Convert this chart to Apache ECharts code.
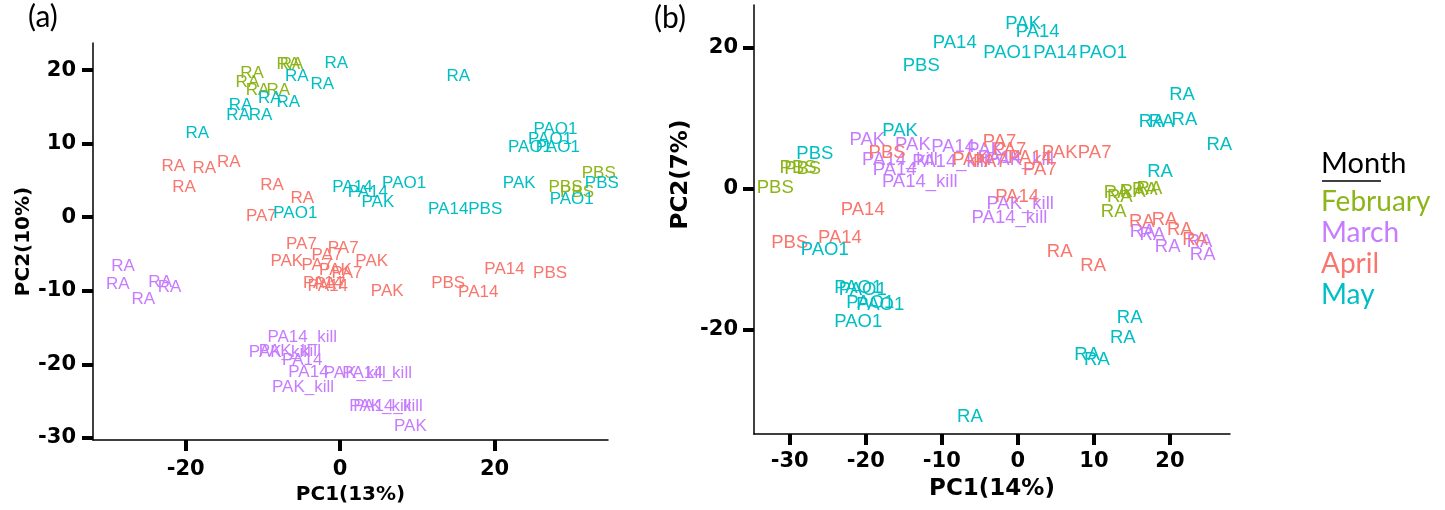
<!DOCTYPE html>
<html>
<head>
<meta charset="utf-8">
<script src="https://cdn.jsdelivr.net/npm/echarts@6/dist/echarts.min.js"></script>
<style>
html,body{margin:0;padding:0;background:#fff;}
#chart{width:1445px;height:510px;}
</style>
</head>
<body>
<div id="chart"></div>
<script>
// ---------- DATA ----------
const months = ['February', 'March', 'April', 'May'];
const monthColors = ['#8db51a', '#c77cff', '#f8766d', '#00bfc4'];

const ticksAX = [-20, 0, 20];
const ticksAY = [-30, -20, -10, 0, 10, 20];
const ticksBX = [-30, -20, -10, 0, 10, 20];
const ticksBY = [-20, 0, 20];

// panel (a): [PC1, PC2, sample]
const febA = [[-11.4,19.6,'RA'],[-6.7,20.8,'RA'],[-6.3,20.8,'RA'],[-12.0,18.4,'RA'],[-10.7,17.3,'RA'],[-8.0,17.3,'RA'],
  [33.5,6.0,'PBS'],[29.2,4.1,'PBS'],[30.7,3.4,'PBS']];
const marA = [[-28.1,-6.7,'RA'],[-28.8,-9.1,'RA'],[-23.3,-8.8,'RA'],[-22.1,-9.5,'RA'],[-25.5,-11.2,'RA'],
  [-4.9,-16.3,'PA14_kill'],[-7.8,-18.4,'PAK_kill'],[-6.5,-18.2,'PAK_kill'],[-4.9,-19.5,'PA14'],[-4.1,-21.1,'PA14'],
  [-4.8,-23.1,'PAK_kill'],[1.9,-21.2,'PAK_kill'],[4.8,-21.2,'PA14_kill'],[5.2,-25.7,'PAK_kill'],[6.2,-25.7,'PA14_kill'],
  [9.1,-28.4,'PAK']];
const aprA = [[-21.6,6.9,'RA'],[-17.6,6.7,'RA'],[-14.4,7.5,'RA'],[-20.2,4.1,'RA'],[-8.8,4.4,'RA'],[-4.9,2.6,'RA'],
  [-10.2,0.1,'PA7'],[-5.0,-3.7,'PA7'],[0.4,-4.2,'PA7'],[-6.9,-6.0,'PAK'],[-1.7,-5.2,'PA7'],[4.1,-6.0,'PAK'],
  [-3.0,-6.5,'PA7'],[-0.6,-7.2,'PAK'],[0.9,-7.6,'PA7'],[-2.2,-9.0,'PA14'],[-1.3,-9.1,'PA7'],[-1.6,-9.4,'PA14'],
  [6.1,-10.1,'PAK'],[14.0,-9.0,'PBS'],[17.9,-10.2,'PA14'],[21.3,-7.1,'PA14'],[27.2,-7.6,'PBS']];
const mayA = [[-0.5,21.0,'RA'],[-5.6,19.2,'RA'],[-2.3,18.1,'RA'],[-9.1,16.2,'RA'],[-6.7,15.6,'RA'],[-12.9,15.2,'RA'],
  [-13.2,13.9,'RA'],[-10.3,13.9,'RA'],[-18.5,11.4,'RA'],[15.3,19.2,'RA'],
  [27.9,12.0,'PAO1'],[27.2,10.6,'PAO1'],[24.6,9.5,'PAO1'],[28.2,9.5,'PAO1'],[23.2,4.6,'PAK'],[33.9,4.6,'PBS'],
  [30.0,2.4,'PAO1'],[8.3,4.6,'PAO1'],[1.6,4.1,'PA14'],[3.6,3.4,'PA14'],[4.9,2.0,'PAK'],[14.0,1.1,'PA14'],
  [18.8,1.1,'PBS'],[-5.8,0.5,'PAO1']];

// panel (b): [PC1, PC2, sample]
const febB = [[-28.9,3.0,'PBS'],[-28.3,2.8,'PBS'],[-31.9,0.1,'PBS'],
  [13.0,-0.6,'RA'],[15.1,-0.4,'RA'],[16.7,-0.1,'RA'],[17.3,0.0,'RA'],[12.6,-3.3,'RA'],[13.4,-1.1,'RA']];
const marB = [[-19.8,7.0,'PAK'],[-13.8,6.3,'PAK'],[-8.5,6.0,'PA14'],[-4.3,5.5,'PAK'],[-15.5,4.1,'PA14_kill'],
  [-16.2,2.7,'PA14'],[-12.9,1.0,'PA14_kill'],[-8.9,3.8,'PA14_kill'],[-2.4,4.4,'PA14'],[0.3,4.1,'PAK_kill'],
  [0.3,-2.1,'PAK_kill'],[-1.1,-4.1,'PA14_kill'],
  [16.4,-6.1,'RA'],[17.7,-6.5,'RA'],[19.7,-8.2,'RA'],[23.9,-7.5,'RA'],[24.3,-9.4,'RA']];
const aprB = [[-17.2,5.1,'PBS'],[-20.4,-3.0,'PA14'],[-30.0,-7.7,'PBS'],[-23.4,-7.0,'PA14'],
  [-2.4,6.7,'PA7'],[5.5,5.1,'PAK'],[10.1,5.1,'PA7'],[2.9,2.7,'PA7'],[-0.1,-1.1,'PA14'],
  [-1.1,5.5,'PA7'],[1.6,4.4,'PA14'],[-6.3,4.1,'PAK'],[-3.7,3.8,'PA7'],
  [16.3,-4.7,'RA'],[19.3,-4.4,'RA'],[21.3,-5.8,'RA'],[23.3,-7.2,'RA'],[5.5,-8.9,'RA'],[9.9,-10.9,'RA']];
const mayB = [[0.7,23.4,'PAK'],[2.6,22.3,'PA14'],[-1.4,19.3,'PAO1'],[4.9,19.3,'PA14'],[11.2,19.3,'PAO1'],
  [-8.3,20.7,'PA14'],[-12.7,17.5,'PBS'],[-15.5,8.2,'PAK'],[-26.7,5.0,'PBS'],
  [21.6,13.4,'RA'],[17.6,9.5,'RA'],[18.9,9.5,'RA'],[21.9,9.8,'RA'],[26.5,6.3,'RA'],[18.7,2.4,'RA'],
  [-25.4,-8.7,'PAO1'],[-21.0,-14.1,'PAO1'],[-20.4,-14.3,'PAO1'],[-19.4,-16.2,'PAO1'],[-18.1,-16.5,'PAO1'],[-21.0,-18.9,'PAO1'],
  [14.7,-18.3,'RA'],[13.8,-21.2,'RA'],[9.1,-23.6,'RA'],[10.4,-24.3,'RA'],[-6.3,-32.4,'RA']];

const panelA = [febA, marA, aprA, mayA];
const panelB = [febB, marB, aprB, mayB];

// ---------- CHART ----------
const chart = echarts.init(document.getElementById('chart'), null, {renderer: 'canvas'});

function textSeries(name, data, color, gridIdx, fontSize) {
  return {
    type: 'custom',
    name: name,
    xAxisIndex: gridIdx,
    yAxisIndex: gridIdx,
    color: color,
    data: data.map(d => [d[0], d[1]]),
    encode: {x: 0, y: 1},
    clip: false,
    renderItem: function (params, api) {
      const p = api.coord([api.value(0), api.value(1)]);
      return {
        type: 'text',
        x: p[0], y: p[1],
        style: {
          text: data[params.dataIndex][2],
          fill: color,
          font: fontSize + 'px "Liberation Sans", Arial, sans-serif',
          align: 'center',
          verticalAlign: 'middle'
        }
      };
    }
  };
}

function axisCfg(gridIdx, min, max, ticks, name, tickFont, nameFont, nameGap, margin, namePadding) {
  return {
    type: 'value', gridIndex: gridIdx, min: min, max: max,
    name: name, nameLocation: 'middle', nameGap: nameGap,
    nameTextStyle: {fontFamily: 'DejaVu Sans', fontWeight: 'bold', fontSize: nameFont, color: '#000', padding: namePadding || 0},
    axisLine: {show: true, onZero: false, lineStyle: {color: '#000', width: 1.5}},
    axisTick: {show: true, length: 11, customValues: ticks, lineStyle: {color: '#000', width: 4}},
    axisLabel: {customValues: ticks, margin: margin, fontFamily: 'DejaVu Sans', fontWeight: 'bold', fontSize: tickFont, color: '#000'},
    splitLine: {show: false}
  };
}

const series = [];
months.forEach((m, i) => {
  series.push(textSeries(m, panelA[i], monthColors[i], 0, 17));
  series.push(textSeries(m, panelB[i], monthColors[i], 1, 18.5));
});

const option = {
  backgroundColor: '#fff',
  animation: false,
  grid: [
    {left: 93, top: 43, width: 515, height: 397},
    {left: 754, top: 5, width: 476, height: 429}
  ],
  xAxis: [
    axisCfg(0, -32, 34.7, ticksAX, 'PC1(13%)', 21, 20, 31, 19),
    axisCfg(1, -34.7, 27.9, ticksBX, 'PC1(14%)', 21, 23, 44, 17)
  ],
  yAxis: [
    axisCfg(0, -30.3, 23.7, ticksAY, 'PC2(10%)', 21, 20, 52, 17),
    axisCfg(1, -34.8, 26.1, ticksBY, 'PC2(7%)', 21, 23, 61, 16, [0, 0, 0, 90])
  ],
  legend: {
    orient: 'vertical',
    left: 1311, top: 181,
    itemWidth: 0, itemHeight: 0, itemGap: 0,
    selectedMode: false,
    textStyle: {fontFamily: 'Lato', fontSize: 28, lineHeight: 31},
    data: months.map((m, i) => ({name: m, icon: 'rect', textStyle: {color: monthColors[i]}}))
  },
  graphic: [
    {type: 'text', x: 28, y: 2, style: {text: '(a)', font: '30px Lato', fill: '#000'}},
    {type: 'text', x: 654, y: 3, style: {text: '(b)', font: '30px Lato', fill: '#000'}},
    {type: 'text', x: 1321, y: 149, style: {text: 'Month', font: '29px Lato', fill: '#000'}},
    {type: 'line', shape: {x1: 1322, y1: 181, x2: 1381, y2: 181}, style: {stroke: '#000', lineWidth: 1.5}}
  ],
  series: series
};
chart.setOption(option);
</script>
</body>
</html>
